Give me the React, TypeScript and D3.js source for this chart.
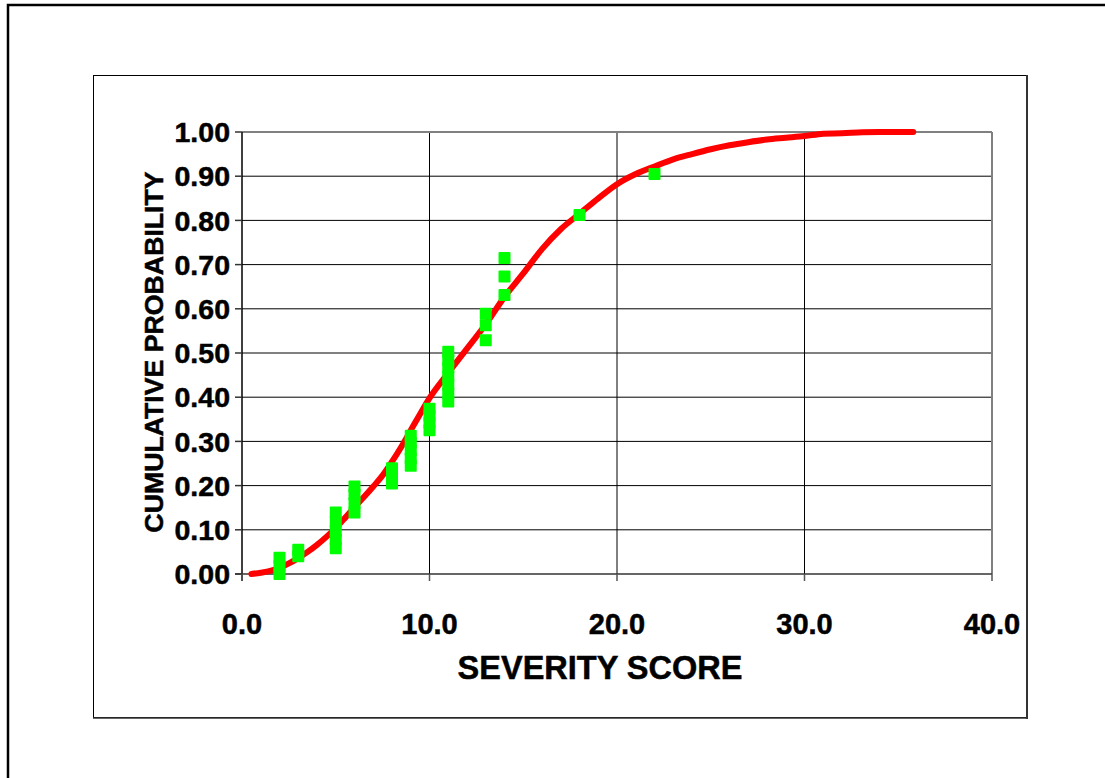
import React from "react";
import * as d3 from "d3";

// Fitted cumulative curve
const curveX = [0.5, 1, 1.5, 2, 2.5, 3, 3.5, 4, 4.5, 5, 5.5, 6, 6.5, 7, 7.5, 8, 8.5, 9, 9.5, 10, 11, 12, 13, 14, 15, 16, 17, 18, 19, 20, 21, 22, 23, 24, 25, 26, 27, 28, 29, 30, 30.6, 31, 32, 33.1, 34, 35, 35.8];
const curveP = [0, 0.003, 0.007, 0.014, 0.024, 0.036, 0.05, 0.066, 0.084, 0.104, 0.127, 0.151, 0.174, 0.198, 0.223, 0.254, 0.288, 0.325, 0.362, 0.398, 0.455, 0.51, 0.565, 0.627, 0.68, 0.735, 0.78, 0.815, 0.85, 0.882, 0.905, 0.922, 0.938, 0.95, 0.961, 0.97, 0.977, 0.983, 0.987, 0.991, 0.994, 0.996, 0.997, 0.9995, 1.0, 1.0, 1.0];

// Observed points (severity score, cumulative probability)
const obsX = [2, 2, 2, 3, 3, 5, 5, 5, 5, 5, 6, 6, 6, 6, 8, 8, 8, 9, 9, 9, 9, 9, 10, 10, 10, 10, 11, 11, 11, 11, 11, 11, 11, 13, 13, 13, 14, 14, 14, 18, 22];
const obsP = [0.0, 0.018, 0.037, 0.04, 0.055, 0.058, 0.078, 0.098, 0.118, 0.139, 0.139, 0.16, 0.18, 0.198, 0.205, 0.222, 0.239, 0.245, 0.262, 0.28, 0.297, 0.313, 0.325, 0.342, 0.358, 0.374, 0.39, 0.409, 0.428, 0.447, 0.466, 0.485, 0.503, 0.529, 0.563, 0.589, 0.631, 0.673, 0.715, 0.812, 0.905];

const xTicks = [0, 10, 20, 30, 40];
const yTicks = [0, 0.1, 0.2, 0.3, 0.4, 0.5, 0.6, 0.7, 0.8, 0.9, 1.0];

const xTitle = "SEVERITY SCORE";
const yTitle = "CUMULATIVE PROBABILITY";

export default function App() {
  const x = d3.scaleLinear().domain([0, 40]).range([242, 992]);
  const y = d3.scaleLinear().domain([0, 1]).range([574, 132]);
  const font = "'Liberation Sans', Arial, sans-serif";

  const line = d3
    .line<number>()
    .x((_, i) => x(curveX[i]))
    .y((d) => y(d))
    .curve(d3.curveMonotoneX);

  const m = 12;
  const thick = { stroke: "#000", strokeWidth: 0.5 };

  return (
    <svg
      width={1105}
      height={778}
      style={{ position: "absolute", left: 0, top: 0, background: "#fff" }}
    >
      {/* outer frame */}
      <path d="M8,778 L8,5 L1105,5" fill="none" stroke="#000" strokeWidth={2.5} />
      {/* chart area frame */}
      <rect x={93.5} y={75.5} width={933} height={642} fill="#fff" stroke="#000" strokeWidth={1} />
      <line x1={1027} y1={75} x2={1027} y2={719} stroke="#333" strokeWidth={2} />
      <line x1={93} y1={718} x2={1028} y2={718} stroke="#333" strokeWidth={1.5} />

      {/* gridlines */}
      {yTicks.slice(1, -1).map((t) => (
        <line key={"gy" + t} x1={x(0)} x2={x(40)} y1={y(t)} y2={y(t)} stroke="#000" strokeWidth={1} />
      ))}
      {xTicks.slice(1, -1).map((t) => (
        <line key={"gx" + t} x1={x(t)} x2={x(t)} y1={y(0)} y2={y(1)} stroke="#000" strokeWidth={1} />
      ))}
      {/* plot border top/right gray */}
      <line x1={x(0)} x2={x(40)} y1={y(1)} y2={y(1)} stroke="#808080" strokeWidth={2} />
      <line x1={x(40)} x2={x(40)} y1={y(1)} y2={y(0)} stroke="#808080" strokeWidth={2} />

      {/* axes */}
      <line x1={x(0)} x2={x(0)} y1={y(1)} y2={y(0) + 7} stroke="#000" strokeWidth={1.5} />
      <line x1={x(0) - 7} x2={x(40)} y1={y(0)} y2={y(0)} stroke="#333" strokeWidth={1.5} />
      {yTicks.map((t) => (
        <line key={"ty" + t} x1={x(0) - 7} x2={x(0)} y1={y(t)} y2={y(t)} stroke="#333" strokeWidth={1.5} />
      ))}
      {xTicks.map((t) => (
        <line key={"tx" + t} x1={x(t)} x2={x(t)} y1={y(0)} y2={y(0) + 7} stroke="#555" strokeWidth={1.5} />
      ))}

      {/* tick labels */}
      {yTicks.map((t) => (
        <text
          key={"ly" + t}
          x={x(0) - 12}
          y={y(t)}
          dy="0.36em"
          textAnchor="end"
          fontFamily={font}
          fontWeight="bold"
          fontSize={28.5}
          fill="#000"
          {...thick}
        >
          {t.toFixed(2)}
        </text>
      ))}
      {xTicks.map((t) => (
        <text
          key={"lx" + t}
          x={x(t)}
          y={634}
          textAnchor="middle"
          fontFamily={font}
          fontWeight="bold"
          fontSize={29}
          fill="#000"
          {...thick}
        >
          {t.toFixed(1)}
        </text>
      ))}

      {/* titles */}
      <text
        x={600}
        y={679}
        textAnchor="middle"
        fontFamily={font}
        fontWeight="bold"
        fontSize={32.5}
        fill="#000"
        {...thick}
      >
        {xTitle}
      </text>
      <text
        transform="translate(163,352) rotate(-90)"
        textAnchor="middle"
        fontFamily={font}
        fontWeight="bold"
        fontSize={26.7}
        fill="#000"
        {...thick}
      >
        {yTitle}
      </text>

      {/* fitted curve */}
      <path
        d={line(curveP) || ""}
        fill="none"
        stroke="#ff0000"
        strokeWidth={6}
        strokeLinecap="round"
        strokeLinejoin="round"
      />

      {/* observed points */}
      {obsX.map((v, i) => (
        <rect
          key={"o" + i}
          x={x(v) - m / 2}
          y={y(obsP[i]) - m / 2}
          width={m}
          height={m}
          rx={1}
          fill="#00ff00"
        />
      ))}
    </svg>
  );
}
